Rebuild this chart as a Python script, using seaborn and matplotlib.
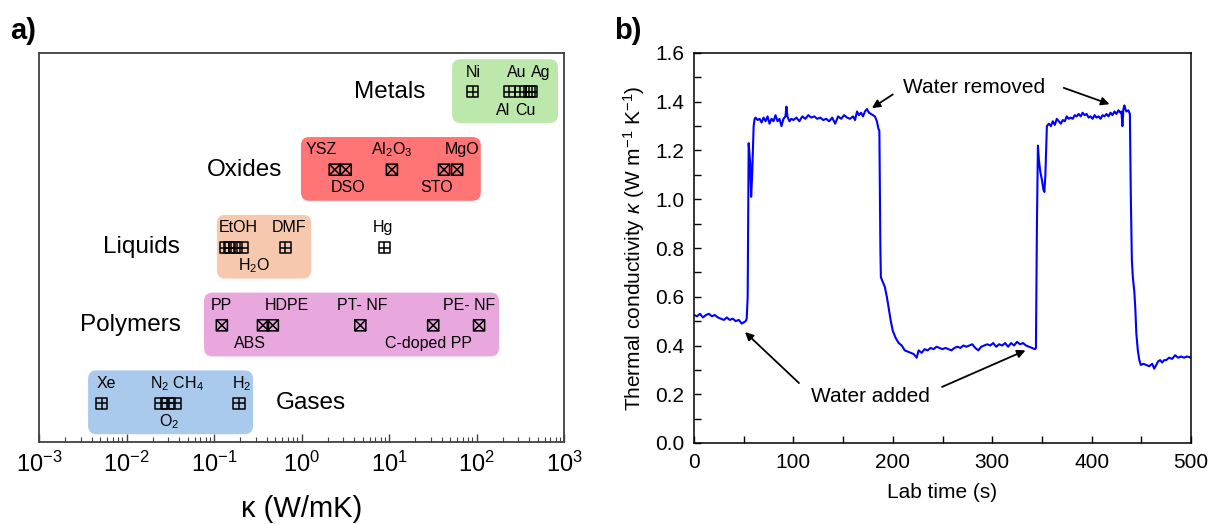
import numpy as np
import pandas as pd
import matplotlib
matplotlib.use("Agg")
import matplotlib.pyplot as plt
import seaborn as sns
from matplotlib.path import Path
from matplotlib.patches import FancyBboxPatch
from matplotlib.ticker import FixedLocator, LogFormatterMathtext, MultipleLocator, FormatStrFormatter, NullFormatter

sns.set_theme(style="white")
plt.rcParams["font.family"] = ["Liberation Sans", "DejaVu Sans"]
plt.rcParams["mathtext.fontset"] = "custom"
plt.rcParams["mathtext.rm"] = "Liberation Sans"
plt.rcParams["mathtext.it"] = "Liberation Sans:italic"
plt.rcParams["mathtext.bf"] = "Liberation Sans:bold"
plt.rcParams["mathtext.default"] = "regular"
for k in ["text.color", "axes.labelcolor", "xtick.color", "ytick.color"]:
    plt.rcParams[k] = "black"

# ---------------- Panel a data ----------------
categories = ["Metals", "Oxides", "Liquids", "Polymers", "Gases"]
category_rows = [5, 4, 3, 2, 1]
category_colors = ["#bce8ac", "#ff7474", "#f6c9ae", "#e8a8de", "#a9caec"]
box_kappa_lo = [52.7, 0.986, 0.108, 0.0769, 0.00364]
box_kappa_hi = [853, 112, 1.29, 181, 0.279]
category_label_kappa = [10.3, 0.226, 0.015, 0.011, 1.28]
decade_ticks = [1e-3, 1e-2, 1e-1, 1e0, 1e1, 1e2, 1e3]

metals_kappa = [91, 237, 318, 400, 429]
oxides_kappa = [2.4, 3.2, 10.8, 42.5, 60]
liquids_kappa = [0.135, 0.15, 0.17, 0.21, 0.65, 8.8]
polymers_kappa = [0.123, 0.363, 0.47, 4.7, 32, 107]
gases_kappa = [0.0052, 0.0248, 0.0298, 0.0358, 0.193]
category_marker = ["plus", "cross", "plus", "cross", "plus"]

# material labels: (text, kappa position, row, above/below)
label_text = ["Ni", "Au", "Ag", "Al", "Cu",
              "YSZ", "Al$_2$O$_3$", "MgO", "DSO", "STO",
              "EtOH", "DMF", "Hg", "H$_2$O",
              "PP", "HDPE", "PT- NF", "PE- NF", "ABS", "C-doped PP",
              "Xe", "N$_2$ CH$_4$", "H$_2$", "O$_2$"]
label_kappa = [91, 290, 546, 201, 358,
               1.67, 10.8, 68, 3.4, 35.4,
               0.188, 0.72, 8.5, 0.286,
               0.123, 0.68, 4.9, 82, 0.258, 28.6,
               0.00583, 0.0378, 0.209, 0.0306]
label_row = [5, 5, 5, 5, 5,
             4, 4, 4, 4, 4,
             3, 3, 3, 3,
             2, 2, 2, 2, 2, 2,
             1, 1, 1, 1]
label_side = ["up", "up", "up", "down", "down",
              "up", "up", "up", "down", "down",
              "up", "up", "up", "down",
              "up", "up", "up", "up", "down", "down",
              "up", "up", "up", "down"]

# ---------------- Panel b data ----------------
time_s = [0, 3, 6, 9, 12, 15, 18, 21, 24, 27, 30, 33, 36, 39, 42, 45, 48, 50, 52, 53,
          54, 55, 56.5, 57.5, 58.5, 60, 61,
          62, 64, 66, 68, 70, 72, 74, 76, 78, 80, 82, 84, 86, 88, 90, 92, 93, 94, 96, 98,
          100, 103, 106, 109, 112, 115, 118, 121, 124, 127, 130, 133, 136, 139, 142, 145,
          148, 151, 154, 157, 160, 162, 164, 166, 168, 170, 172, 174, 176, 178, 180, 182,
          184, 185.5, 186.5, 187.5, 188, 190, 192, 194, 196, 198, 200, 203, 206, 209, 212,
          215, 218, 221, 224, 226, 229, 232, 235, 238, 241, 244, 247, 250, 253, 256, 259,
          262, 265, 268, 271, 274, 277, 280, 283, 286, 289, 292, 295, 298, 301, 304, 307,
          310, 313, 316, 319, 322, 325, 328, 331, 334, 337, 340, 343, 344,
          345, 346, 347, 348.5, 350, 351.5, 352.5, 353.5, 355, 357, 359, 361, 363, 365,
          367, 369, 371, 373, 375, 377, 379, 381, 383, 385, 387, 389, 391, 393, 395, 397,
          399, 401, 403, 405, 407, 409, 411, 413, 415, 417, 419, 421, 423, 425, 427, 429,
          430, 431, 432, 433, 434, 435, 437, 438.5, 439.5, 440.5, 441.5, 443, 444, 445,
          446.5, 448, 449.5, 452, 455, 458, 461, 463, 465, 467, 469, 471, 473, 475, 478,
          481, 484, 487, 490, 493, 496, 500]
kappa_wm = [0.525, 0.52, 0.53, 0.515, 0.525, 0.53, 0.52, 0.525, 0.515, 0.51, 0.505, 0.515,
            0.505, 0.51, 0.50, 0.505, 0.49, 0.495, 0.50, 0.51,
            0.60, 1.23, 1.15, 1.01, 1.10, 1.30, 1.33,
            1.335, 1.325, 1.33, 1.315, 1.335, 1.32, 1.34, 1.31, 1.33, 1.32, 1.345, 1.32,
            1.33, 1.30, 1.33, 1.34, 1.38, 1.34, 1.32, 1.33,
            1.325, 1.335, 1.32, 1.34, 1.33, 1.345, 1.335, 1.34, 1.33, 1.335, 1.325, 1.33,
            1.32, 1.335, 1.31, 1.34,
            1.33, 1.345, 1.335, 1.33, 1.34, 1.325, 1.36, 1.345, 1.355, 1.34, 1.36, 1.37,
            1.355, 1.35, 1.345, 1.34,
            1.32, 1.29, 1.28, 0.80, 0.68, 0.66, 0.64, 0.60, 0.55, 0.50, 0.46, 0.43, 0.41,
            0.40, 0.38,
            0.375, 0.37, 0.365, 0.35, 0.38, 0.37, 0.385, 0.38, 0.39, 0.385, 0.395, 0.39,
            0.385, 0.39, 0.385, 0.38,
            0.39, 0.395, 0.39, 0.40, 0.395, 0.40, 0.405, 0.39, 0.38, 0.395, 0.40, 0.405,
            0.40, 0.41, 0.395, 0.405,
            0.40, 0.41, 0.395, 0.41, 0.40, 0.415, 0.405, 0.41, 0.40, 0.395, 0.39, 0.385, 0.39,
            0.90, 1.22, 1.16, 1.11, 1.08, 1.04, 1.03, 1.10, 1.30, 1.31, 1.30, 1.32, 1.305,
            1.33,
            1.32, 1.31, 1.325, 1.32, 1.34, 1.33, 1.335, 1.33, 1.345, 1.34, 1.35, 1.34,
            1.355, 1.345, 1.35, 1.335,
            1.34, 1.33, 1.345, 1.335, 1.34, 1.33, 1.345, 1.34, 1.35, 1.34, 1.355, 1.345,
            1.36, 1.35, 1.365, 1.355,
            1.36, 1.30, 1.37, 1.385, 1.37, 1.36, 1.365, 1.35, 1.00, 0.75, 0.68, 0.62, 0.55,
            0.45,
            0.38, 0.34, 0.32, 0.325, 0.32, 0.315, 0.325, 0.305, 0.32, 0.335, 0.34, 0.33,
            0.34, 0.34, 0.35,
            0.345, 0.36, 0.35, 0.355, 0.35, 0.355, 0.35]

# ---------------- Figure ----------------
fig = plt.figure(figsize=(12.13, 5.24), dpi=100)
axa = fig.add_axes([39 / 1213, (524 - 442) / 524, 525 / 1213, 389 / 524])
axb = fig.add_axes([694 / 1213, (524 - 443) / 524, 497 / 1213, 390 / 524])

# custom markers: square with plus, square with cross
plus_path = Path([(-1, -1), (1, -1), (1, 1), (-1, 1), (-1, -1),
                  (0, -1), (0, 1), (-1, 0), (1, 0)],
                 [Path.MOVETO, Path.LINETO, Path.LINETO, Path.LINETO, Path.CLOSEPOLY,
                  Path.MOVETO, Path.LINETO, Path.MOVETO, Path.LINETO])
cross_path = Path([(-1, -1), (1, -1), (1, 1), (-1, 1), (-1, -1),
                   (-1, -1), (1, 1), (-1, 1), (1, -1)],
                  [Path.MOVETO, Path.LINETO, Path.LINETO, Path.LINETO, Path.CLOSEPOLY,
                   Path.MOVETO, Path.LINETO, Path.MOVETO, Path.LINETO])

series = [metals_kappa, oxides_kappa, liquids_kappa, polymers_kappa, gases_kappa]
rows = []
for cat, r, mk, vals in zip(categories, category_rows, category_marker, series):
    for v in vals:
        rows.append({"category": cat, "row": r, "marker": mk, "kappa": v})
df = pd.DataFrame(rows)

axa.set_xscale("log")
axa.set_xlim(decade_ticks[0], decade_ticks[-1])
axa.set_ylim(0.5, 5.5)

# background boxes
axa.figure.canvas.draw()
to_axes = axa.transData + axa.transAxes.inverted()
for r, c, lo, hi in zip(category_rows, category_colors, box_kappa_lo, box_kappa_hi):
    (x0, y0) = to_axes.transform((lo, r - 0.40))
    (x1, y1) = to_axes.transform((hi, r + 0.42))
    box = FancyBboxPatch((x0, y0), x1 - x0, y1 - y0,
                         boxstyle="round,pad=0,rounding_size=0.016",
                         mutation_aspect=525 / 389,
                         transform=axa.transAxes, facecolor=c, edgecolor="none", zorder=1)
    axa.add_patch(box)

for mk, path in [("plus", plus_path), ("cross", cross_path)]:
    sub = df[df["marker"] == mk]
    sns.scatterplot(data=sub, x="kappa", y="row", ax=axa, marker=path, s=64,
                    facecolors="none", edgecolor="black", linewidth=1.1, zorder=3,
                    legend=False)

for cat, r, xk in zip(categories, category_rows, category_label_kappa):
    axa.text(xk, r, cat, ha="center", va="center", fontsize=17.5, zorder=4)

for t, xk, r, side in zip(label_text, label_kappa, label_row, label_side):
    yy = r + 0.255 if side == "up" else r - 0.235
    axa.text(xk, yy, t, ha="center", va="center", fontsize=11.5, zorder=4)

axa.set_ylabel("")
axa.set_yticks([])
axa.xaxis.set_major_locator(FixedLocator(decade_ticks))
minor = [m * d for d in decade_ticks[:-1] for m in range(2, 10)]
axa.xaxis.set_minor_locator(FixedLocator(minor))
axa.xaxis.set_major_formatter(LogFormatterMathtext())
axa.xaxis.set_minor_formatter(NullFormatter())
axa.tick_params(axis="x", which="major", direction="in", length=6, width=1,
                labelsize=17, pad=7, bottom=True, top=False, color="#404040")
axa.tick_params(axis="x", which="minor", direction="in", length=3.5, width=0.8,
                bottom=True, top=False, color="#404040")
for sp in axa.spines.values():
    sp.set_color("#404040")
    sp.set_linewidth(1.3)
axa.set_xlabel("κ (W/mK)", fontsize=21, labelpad=13)

# ---------------- Panel b ----------------
sns.lineplot(x=time_s, y=kappa_wm, ax=axb, color="#0000ff", linewidth=1.5,
             estimator=None, sort=False)
axb.set_xlim(0, 500)
axb.set_ylim(0, 1.6)
axb.xaxis.set_major_locator(MultipleLocator(100))
axb.xaxis.set_minor_locator(MultipleLocator(50))
axb.yaxis.set_major_locator(MultipleLocator(0.2))
axb.yaxis.set_minor_locator(MultipleLocator(0.1))
axb.yaxis.set_major_formatter(FormatStrFormatter("%.1f"))
axb.tick_params(which="both", direction="in", length=5, width=1, color="black",
                top=False, right=False, bottom=True, left=True)
axb.tick_params(which="major", labelsize=15, pad=7)
for sp in axb.spines.values():
    sp.set_color("black")
    sp.set_linewidth(1.1)
axb.set_xlabel("Lab time (s)", fontsize=15, labelpad=8)
axb.set_ylabel(r"Thermal conductivity $\it{\kappa}$ (W m$^{-1}$ K$^{-1}$)", fontsize=15,
               labelpad=6)

arrow_kw = dict(arrowstyle="-|>", color="black", lw=1.3, mutation_scale=12,
                shrinkA=0, shrinkB=0)
axb.text(282, 1.46, "Water removed", ha="center", va="center", fontsize=15)
axb.annotate("", xy=(179, 1.374), xytext=(200, 1.43), arrowprops=arrow_kw)
axb.annotate("", xy=(418, 1.39), xytext=(372, 1.457), arrowprops=arrow_kw)
axb.text(177, 0.189, "Water added", ha="center", va="center", fontsize=15)
axb.annotate("", xy=(51.3, 0.455), xytext=(105.6, 0.246), arrowprops=arrow_kw)
axb.annotate("", xy=(333.5, 0.38), xytext=(249.5, 0.23), arrowprops=arrow_kw)

fig.text(10 / 1213, 1 - 31 / 524, "a)", fontsize=21, fontweight="bold", va="center", ha="left")
fig.text(614 / 1213, 1 - 31 / 524, "b)", fontsize=21, fontweight="bold", va="center", ha="left")

fig.savefig("out.png", dpi=100)
